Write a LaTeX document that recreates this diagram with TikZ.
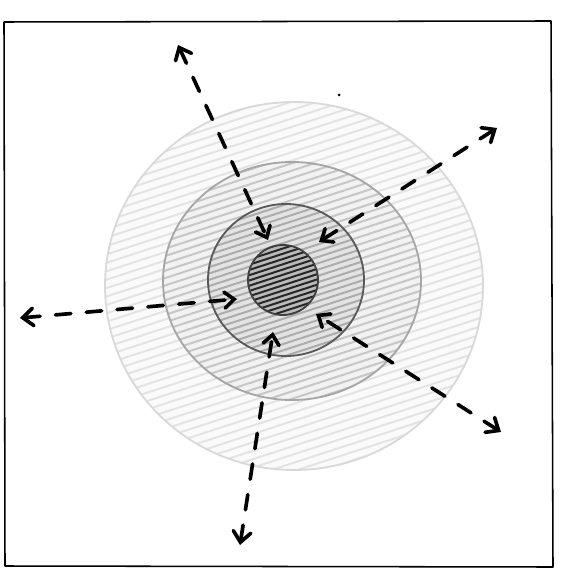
\documentclass[tikz,border=0pt]{standalone}
\usetikzlibrary{arrows.meta}
\begin{document}
\begin{tikzpicture}[x=0.025cm,y=-0.025cm,
    flow/.style={line width=2.6pt, line cap=round, dash pattern=on 11pt off 11pt,
      {Straight Barb[length=2.6mm,width=4.4mm,line cap=round]}-{Straight Barb[length=2.4mm,width=4mm,line cap=round]}},
    hatch/.style={line width=1.4pt, line cap=round}]
    \useasboundingbox (0,0) rectangle (566,576);
    % frame
    \draw[line width=1.1pt, line join=round] (4,22) -- (551,21) -- (553,567) -- (5,566) -- cycle;
    % outer zone
    \fill[gray!4] (294,286) ellipse (189 and 184);
    \begin{scope}
        \clip (294,286) ellipse (189 and 184);
        \foreach \d in {-200,-192,...,200}
            \draw[hatch, gray!22] ([rotate around={18:(294,286)}]94,{286+\d}) -- ([rotate around={18:(294,286)}]494,{286+\d});
    \end{scope}
    % middle zone
    \fill[gray!10] (292,281) ellipse (129 and 119);
    \begin{scope}
        \clip (292,281) ellipse (129 and 119);
        \foreach \d in {-140,-133,...,140}
            \draw[hatch, gray!45] ([rotate around={18:(292,281)}]152,{281+\d}) -- ([rotate around={18:(292,281)}]432,{281+\d});
    \end{scope}
    % inner ring
    \fill[gray!22] (286,280) ellipse (78 and 76);
    \begin{scope}
        \clip (286,280) ellipse (78 and 76);
        \foreach \d in {-90,-84,...,90}
            \draw[hatch, gray!65] ([rotate around={18:(286,280)}]196,{280+\d}) -- ([rotate around={18:(286,280)}]376,{280+\d});
    \end{scope}
    % core
    \fill[gray!55] (283,280) ellipse (35 and 35);
    \begin{scope}
        \clip (283,280) ellipse (35 and 35);
        \foreach \d in {-45,-40,...,45}
            \draw[hatch, black!85] ([rotate around={18:(283,280)}]238,{280+\d}) -- ([rotate around={18:(283,280)}]328,{280+\d});
    \end{scope}
    % outlines
    \draw[line width=1.3pt, gray!30] (294,286) ellipse (189 and 184);
    \draw[line width=1.3pt, gray!70] (292,281) ellipse (129 and 119);
    \draw[line width=1.3pt, black!65] (286,280) ellipse (78 and 76);
    \draw[line width=1.3pt, black!75] (283,280) ellipse (35 and 35);
    \fill (339,95) circle (1.5);
    % flows
    \coordinate (nwOut) at (178,45);
    \coordinate (nwIn) at (268,240);
    \coordinate (neOut) at (497,128);
    \coordinate (neIn) at (319,242);
    \coordinate (wOut) at (20,318);
    \coordinate (wIn) at (237,299);
    \coordinate (seOut) at (501,432);
    \coordinate (seIn) at (316,314);
    \coordinate (sOut) at (240,545);
    \coordinate (sIn) at (273,332);
    \draw[flow] (nwOut) -- (nwIn);
    \draw[flow] (neOut) -- (neIn);
    \draw[flow] (wOut) -- (wIn);
    \draw[flow] (seOut) -- (seIn);
    \draw[flow] (sOut) -- (sIn);
\end{tikzpicture}
\end{document}
